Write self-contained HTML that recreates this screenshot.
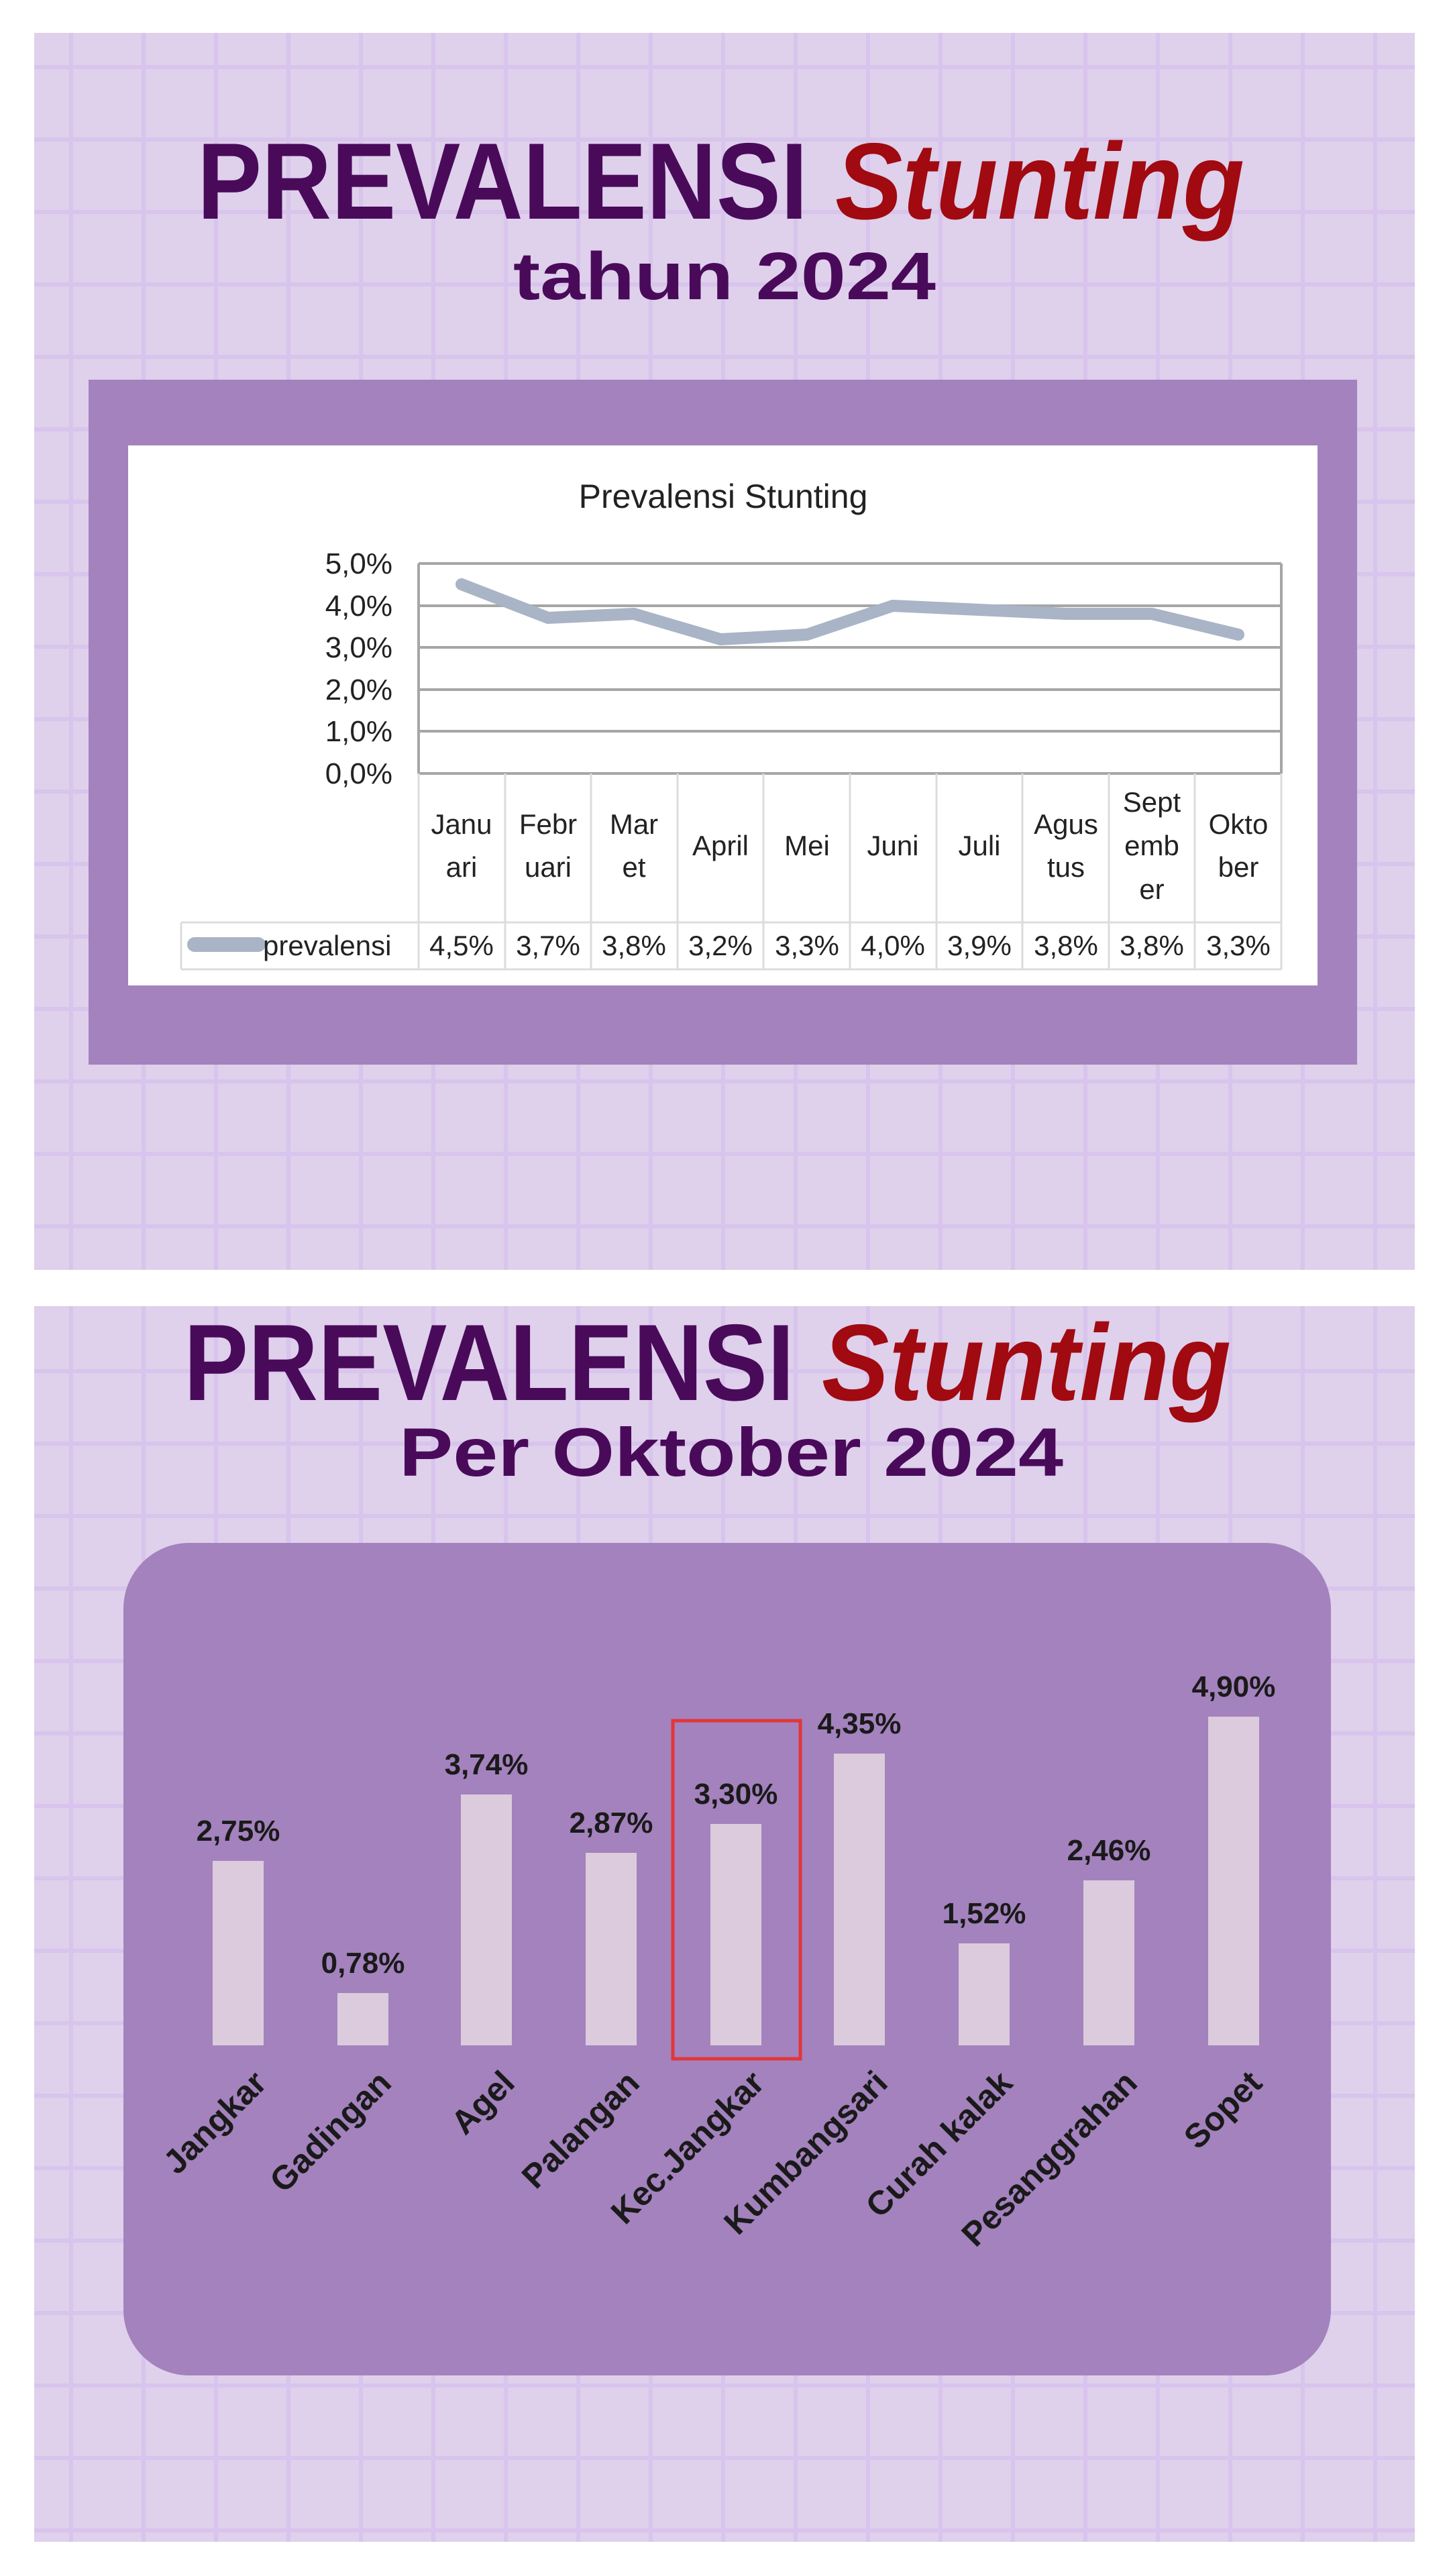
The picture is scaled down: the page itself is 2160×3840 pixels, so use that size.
<!DOCTYPE html>
<html><head><meta charset="utf-8"><style>
html,body{margin:0;padding:0;background:#fff;}
svg{display:block;}
</style></head><body>
<svg width="2160" height="3840" viewBox="0 0 2160 3840" xmlns="http://www.w3.org/2000/svg" font-family="Liberation Sans, sans-serif">
<defs>
<pattern id="g" x="51" y="49" width="108" height="108" patternUnits="userSpaceOnUse">
<rect width="108" height="108" fill="#dfd0ec"/>
<rect x="52" y="0" width="6" height="108" fill="#d8c4ec"/>
<rect x="0" y="48" width="108" height="6" fill="#d8c4ec"/>
</pattern>
</defs>
<rect width="2160" height="3840" fill="#fff"/>
<rect x="51" y="49" width="2058" height="1844" fill="url(#g)"/>
<rect x="51" y="1947" width="2058" height="1842" fill="url(#g)"/>

<!-- top titles -->
<text x="294" y="326" font-size="162" font-weight="bold" fill="#4a0a5a" textLength="910" lengthAdjust="spacingAndGlyphs">PREVALENSI</text>
<text x="1245" y="326" font-size="162" font-weight="bold" font-style="italic" fill="#a00a10" textLength="610" lengthAdjust="spacingAndGlyphs">Stunting</text>
<text x="1080" y="446" font-size="100" font-weight="bold" fill="#4a0a5a" text-anchor="middle" textLength="630" lengthAdjust="spacingAndGlyphs">tahun 2024</text>

<!-- top chart frame -->
<rect x="132" y="566" width="1891" height="1021" fill="#a382bd"/>
<rect x="191" y="664" width="1773" height="805" fill="#fff"/>
<text x="1078" y="757" font-size="50" fill="#222" text-anchor="middle">Prevalensi Stunting</text>

<g stroke="#a6a6a6" stroke-width="4">
<line x1="624" y1="840" x2="1910" y2="840"/>
<line x1="624" y1="903" x2="1910" y2="903"/>
<line x1="624" y1="965" x2="1910" y2="965"/>
<line x1="624" y1="1028" x2="1910" y2="1028"/>
<line x1="624" y1="1090" x2="1910" y2="1090"/>
<line x1="624" y1="1153" x2="1910" y2="1153"/>
<line x1="1910" y1="840" x2="1910" y2="1153"/>
<line x1="624" y1="840" x2="624" y2="1153"/>
</g>
<g stroke="#dcdcdc" stroke-width="3" fill="none">
<line x1="624" y1="1153" x2="624" y2="1445"/>
<line x1="753" y1="1153" x2="753" y2="1445"/>
<line x1="881" y1="1153" x2="881" y2="1445"/>
<line x1="1010" y1="1153" x2="1010" y2="1445"/>
<line x1="1138" y1="1153" x2="1138" y2="1445"/>
<line x1="1267" y1="1153" x2="1267" y2="1445"/>
<line x1="1396" y1="1153" x2="1396" y2="1445"/>
<line x1="1524" y1="1153" x2="1524" y2="1445"/>
<line x1="1653" y1="1153" x2="1653" y2="1445"/>
<line x1="1781" y1="1153" x2="1781" y2="1445"/>
<line x1="1910" y1="1153" x2="1910" y2="1445"/>
<line x1="270" y1="1375" x2="1910" y2="1375"/>
<line x1="270" y1="1445" x2="1910" y2="1445"/>
<line x1="270" y1="1375" x2="270" y2="1445"/>
</g>
<g font-size="44" fill="#222" text-anchor="end">
<text x="585" y="855">5,0%</text>
<text x="585" y="918">4,0%</text>
<text x="585" y="980">3,0%</text>
<text x="585" y="1043">2,0%</text>
<text x="585" y="1105">1,0%</text>
<text x="585" y="1168">0,0%</text>
</g>
<polyline fill="none" stroke="#a9b4c6" stroke-width="18" stroke-linejoin="round" stroke-linecap="round"
points="688,871 817,921 945,915 1074,953 1203,946 1331,903 1460,909 1589,915 1717,915 1846,946"/>
<g font-size="42" fill="#222" text-anchor="middle">
<text x="688" y="1243">Janu</text><text x="688" y="1307">ari</text>
<text x="817" y="1243">Febr</text><text x="817" y="1307">uari</text>
<text x="945" y="1243">Mar</text><text x="945" y="1307">et</text>
<text x="1074" y="1275">April</text>
<text x="1203" y="1275">Mei</text>
<text x="1331" y="1275">Juni</text>
<text x="1460" y="1275">Juli</text>
<text x="1589" y="1243">Agus</text><text x="1589" y="1307">tus</text>
<text x="1717" y="1210">Sept</text><text x="1717" y="1275">emb</text><text x="1717" y="1340">er</text>
<text x="1846" y="1243">Okto</text><text x="1846" y="1307">ber</text>
<text x="688" y="1424">4,5%</text><text x="817" y="1424">3,7%</text><text x="945" y="1424">3,8%</text>
<text x="1074" y="1424">3,2%</text><text x="1203" y="1424">3,3%</text><text x="1331" y="1424">4,0%</text>
<text x="1460" y="1424">3,9%</text><text x="1589" y="1424">3,8%</text><text x="1717" y="1424">3,8%</text>
<text x="1846" y="1424">3,3%</text>
</g>
<line x1="290" y1="1408" x2="385" y2="1408" stroke="#a9b4c6" stroke-width="22" stroke-linecap="round"/>
<text x="392" y="1424" font-size="42" fill="#222">prevalensi</text>

<!-- bottom titles -->
<text x="274" y="2087" font-size="162" font-weight="bold" fill="#4a0a5a" textLength="910" lengthAdjust="spacingAndGlyphs">PREVALENSI</text>
<text x="1225" y="2087" font-size="162" font-weight="bold" font-style="italic" fill="#a00a10" textLength="610" lengthAdjust="spacingAndGlyphs">Stunting</text>
<text x="1090" y="2200" font-size="102" font-weight="bold" fill="#4a0a5a" text-anchor="middle" textLength="990" lengthAdjust="spacingAndGlyphs">Per Oktober 2024</text>

<rect x="184" y="2300" width="1800" height="1241" rx="98" fill="#a382bd"/>
<g fill="#dccbdc">
<rect x="317" y="2774" width="76" height="275"/>
<rect x="503" y="2971" width="76" height="78"/>
<rect x="687" y="2675" width="76" height="374"/>
<rect x="873" y="2762" width="76" height="287"/>
<rect x="1059" y="2719" width="76" height="330"/>
<rect x="1243" y="2614" width="76" height="435"/>
<rect x="1429" y="2897" width="76" height="152"/>
<rect x="1615" y="2803" width="76" height="246"/>
<rect x="1801" y="2559" width="76" height="490"/>
</g>
<rect x="1003" y="2565" width="190" height="504" fill="none" stroke="#e3363a" stroke-width="5"/>
<g font-size="44" font-weight="bold" fill="#1a1a1a" text-anchor="middle">
<text x="355" y="2744">2,75%</text>
<text x="541" y="2941">0,78%</text>
<text x="725" y="2645">3,74%</text>
<text x="911" y="2732">2,87%</text>
<text x="1097" y="2689">3,30%</text>
<text x="1281" y="2584">4,35%</text>
<text x="1467" y="2867">1,52%</text>
<text x="1653" y="2773">2,46%</text>
<text x="1839" y="2529">4,90%</text>
</g>
<g font-size="50" font-weight="bold" fill="#1a1a1a" text-anchor="end">
<text transform="translate(400,3108) rotate(-45)">Jangkar</text>
<text transform="translate(586,3108) rotate(-45)">Gadingan</text>
<text transform="translate(770,3108) rotate(-45)">Agel</text>
<text transform="translate(956,3108) rotate(-45)">Palangan</text>
<text transform="translate(1142,3108) rotate(-45)">Kec.Jangkar</text>
<text transform="translate(1326,3108) rotate(-45)">Kumbangsari</text>
<text transform="translate(1512,3108) rotate(-45)">Curah kalak</text>
<text transform="translate(1698,3108) rotate(-45)">Pesanggrahan</text>
<text transform="translate(1884,3108) rotate(-45)">Sopet</text>
</g>
</svg>
</body></html>
